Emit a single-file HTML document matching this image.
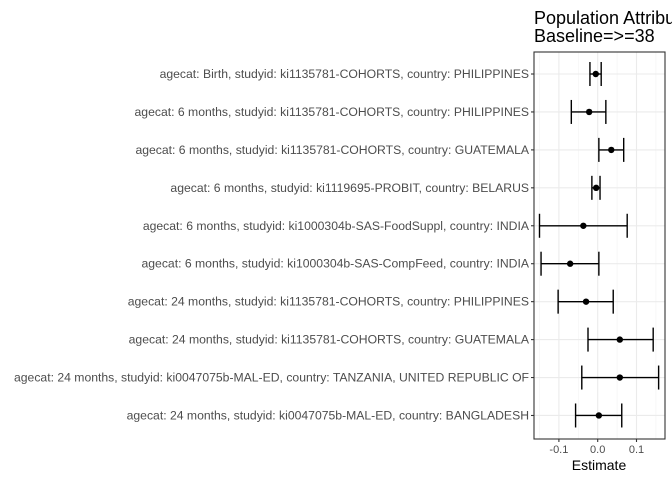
<!DOCTYPE html>
<html><head><meta charset="utf-8"><style>
body{margin:0;background:#fff;font-family:"Liberation Sans",sans-serif}
</style></head><body>
<svg id="c" width="672" height="480" xmlns="http://www.w3.org/2000/svg">
<text x="534" y="24" font-size="18" fill="#000">Population Attributable</text>
<text x="534" y="42" font-size="18" fill="#000">Baseline=&gt;=38</text>
<text x="599" y="470" font-size="14" text-anchor="middle" fill="#000">Estimate</text>
</svg>
<script>
const categories=["agecat: Birth, studyid: ki1135781-COHORTS, country: PHILIPPINES","agecat: 6 months, studyid: ki1135781-COHORTS, country: PHILIPPINES","agecat: 6 months, studyid: ki1135781-COHORTS, country: GUATEMALA","agecat: 6 months, studyid: ki1119695-PROBIT, country: BELARUS","agecat: 6 months, studyid: ki1000304b-SAS-FoodSuppl, country: INDIA","agecat: 6 months, studyid: ki1000304b-SAS-CompFeed, country: INDIA","agecat: 24 months, studyid: ki1135781-COHORTS, country: PHILIPPINES","agecat: 24 months, studyid: ki1135781-COHORTS, country: GUATEMALA","agecat: 24 months, studyid: ki0047075b-MAL-ED, country: TANZANIA, UNITED REPUBLIC OF","agecat: 24 months, studyid: ki0047075b-MAL-ED, country: BANGLADESH"];
const estimates=[-0.005,-0.022,0.035,-0.004,-0.037,-0.071,-0.030,0.057,0.057,0.003];
const lower=[-0.020,-0.068,0.003,-0.015,-0.150,-0.146,-0.102,-0.025,-0.041,-0.057];
const upper=[0.009,0.021,0.067,0.006,0.076,0.003,0.040,0.143,0.157,0.062];
const ticks=[-0.1,0.0,0.1];
const tickLabels=["-0.1","0.0","0.1"];
const minorTicks=[-0.15,-0.05,0.05,0.15];
const NS="http://www.w3.org/2000/svg",svg=document.getElementById('c');
const L=534,R=665,T=52,B=439;
const x=v=>597.7+v*388;
const y=i=>T+(i+0.58)*((B-T)/10.2);
function el(t,a,p){const e=document.createElementNS(NS,t);for(const k in a)e.setAttribute(k,a[k]);(p||svg).appendChild(e);return e;}
const panel=el('rect',{x:L,y:T,width:R-L,height:B-T,fill:'#fff'});


minorTicks.forEach(v=>{const g=el('line',{x1:x(v),x2:x(v),y1:T,y2:B,stroke:'#f2f2f2','stroke-width':0.6});

});
ticks.forEach((v,i)=>{const g=el('line',{x1:x(v),x2:x(v),y1:T,y2:B,stroke:'#ebebeb','stroke-width':1.1});


const tk=el('line',{x1:x(v),x2:x(v),y1:B,y2:B+3,stroke:'#333','stroke-width':1.1});


const t=el('text',{x:x(v),y:B+14,'font-size':11,'text-anchor':'middle',fill:'#4d4d4d'});t.textContent=tickLabels[i];

});
categories.forEach((c,i)=>{const yy=y(i);
const g=el('line',{x1:L,x2:R,y1:yy,y2:yy,stroke:'#ebebeb','stroke-width':1.1});


const tk=el('line',{x1:L-3,x2:L,y1:yy,y2:yy,stroke:'#333','stroke-width':1.1});


const t=el('text',{x:L-5,y:yy+4,'font-size':12.2,'text-anchor':'end',fill:'#4d4d4d'});t.textContent=c;


const grp=el('g',{stroke:'#000','stroke-width':1.4});


el('line',{x1:x(lower[i]),x2:x(upper[i]),y1:yy,y2:yy},grp);
el('line',{x1:x(lower[i]),x2:x(lower[i]),y1:yy-12,y2:yy+12},grp);
el('line',{x1:x(upper[i]),x2:x(upper[i]),y1:yy-12,y2:yy+12},grp);
const p=el('circle',{cx:x(estimates[i]),cy:yy,r:3.2,fill:'#000'});

});
const bd=el('rect',{x:L,y:T,width:R-L,height:B-T,fill:'none',stroke:'#333','stroke-width':1.1});


</script>
</body></html>
